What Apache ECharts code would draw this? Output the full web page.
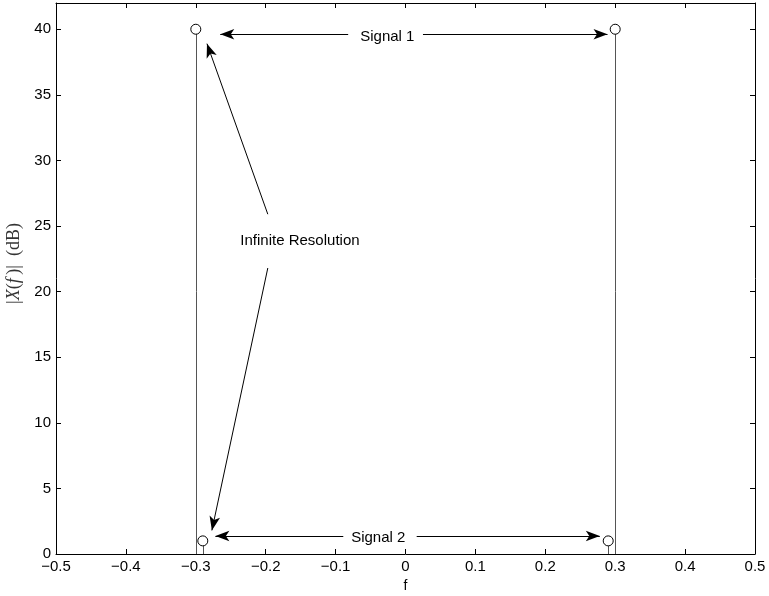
<!DOCTYPE html>
<html><head><meta charset="utf-8">
<script src="https://cdn.jsdelivr.net/npm/echarts@6/dist/echarts.min.js"></script>
<style>html,body{margin:0;padding:0;background:#fff}#c{width:769px;height:596px}</style>
</head><body><div id="c"></div>
<script>
// Data
var stemX = [-0.3, 0.3, -0.29, 0.29];
var stemY = [40, 40, 1, 1];
var xTicks = [-0.5, -0.4, -0.3, -0.2, -0.1, 0, 0.1, 0.2, 0.3, 0.4, 0.5];
var yTicks = [0, 5, 10, 15, 20, 25, 30, 35, 40];
var annotTexts = ['Signal 1', 'Signal 2', 'Infinite Resolution'];
var annotPos = [[-0.026, 39.4], [-0.039, 1.2], [-0.151, 23.85]];
// arrows: [fromX, fromY, toX, toY]
var arrows = [
  [-0.082, 39.62, -0.265, 39.62],
  [0.025, 39.62, 0.289, 39.62],
  [-0.089, 1.37, -0.272, 1.37],
  [0.016, 1.37, 0.278, 1.37],
  [-0.197, 25.9, -0.284, 38.9],
  [-0.197, 21.8, -0.277, 1.8]
];

var FONT = 'Liberation Sans, Arial, sans-serif';
var SERIF = 'Liberation Serif, DejaVu Serif, serif';
function fmtX(v){ var s = Math.abs(v) < 1e-9 ? '0' : v.toFixed(1); return s.replace('-', '\u2212'); }
function fmtY(v){ return yTicks.indexOf(v) >= 0 ? String(v) : ''; }

var chart = echarts.init(document.getElementById('c'), null, {renderer: 'canvas'});
var axisLineStyle = {show: true, onZero: false, lineStyle: {color: '#000', width: 1}};
var tickStyle = {show: true, inside: true, length: 5, lineStyle: {color: '#000', width: 1}};

var stemData = stemX.map(function(x, i){ return [x, stemY[i]]; });
var markLines = arrows.map(function(a){
  return [{coord: [a[0], a[1]], symbol: 'none'}, {coord: [a[2], a[3]], symbol: 'arrow'}];
});

chart.setOption({
  animation: false,
  backgroundColor: '#fff',
  grid: {left: 56, right: 14, top: 3, bottom: 42, show: false, containLabel: false, outerBoundsMode: 'none'},
  xAxis: [{
    type: 'value', min: -0.5, max: 0.5, interval: 0.1, position: 'bottom',
    name: 'f', nameLocation: 'middle', nameGap: 25,
    nameTextStyle: {fontFamily: FONT, fontSize: 14, color: '#000'},
    axisLine: axisLineStyle, axisTick: tickStyle, splitLine: {show: false},
    axisLabel: {formatter: fmtX, fontFamily: FONT, fontSize: 15, color: '#000', margin: 5}
  }, {
    type: 'value', min: -0.5, max: 0.5, interval: 0.1, position: 'top',
    axisLine: axisLineStyle, axisTick: tickStyle, splitLine: {show: false}, axisLabel: {show: false}
  }],
  yAxis: [{
    type: 'value', min: 0, max: 42, interval: 5, position: 'left',
    name: '{a||}{i|X}{a|(}{i|f\u2009}{a|)|  (dB)}', nameLocation: 'middle', nameGap: 31, nameRotate: 90,
    nameTextStyle: {color: '#333', padding: [0, 0, 0, 30], rich: {
      a: {fontFamily: SERIF, fontSize: 18, color: '#333'},
      i: {fontFamily: SERIF, fontSize: 18, fontStyle: 'italic', color: '#333'}
    }},
    axisLine: axisLineStyle, axisTick: tickStyle, splitLine: {show: false},
    axisLabel: {formatter: fmtY, fontFamily: FONT, fontSize: 15, color: '#000', margin: 5}
  }, {
    type: 'value', min: 0, max: 42, interval: 5, position: 'right',
    axisLine: axisLineStyle, axisTick: tickStyle, splitLine: {show: false}, axisLabel: {show: false}
  }],
  series: [{
    type: 'custom',
    data: stemData,
    renderItem: function(params, api){
      var p0 = api.coord([api.value(0), 0]);
      var p1 = api.coord([api.value(0), api.value(1)]);
      return {type: 'line', shape: {x1: Math.round(p0[0]) + 0.5, y1: p0[1], x2: Math.round(p1[0]) + 0.5, y2: p1[1]},
        style: {stroke: '#555', lineWidth: 1}};
    },
    z: 2
  }, {
    type: 'scatter',
    data: stemData,
    symbol: 'circle', symbolSize: 10,
    itemStyle: {color: '#fff', borderColor: '#000', borderWidth: 1, opacity: 1},
    z: 3,
    markLine: {
      silent: true,
      symbolSize: [8, 14],
      lineStyle: {color: '#000', width: 1, type: 'solid', opacity: 1},
      itemStyle: {color: '#000'},
      label: {show: false},
      emphasis: {disabled: true},
      data: markLines
    }
  }, {
    type: 'scatter',
    data: annotPos.map(function(p, i){ return {value: p, name: annotTexts[i]}; }),
    symbolSize: 1,
    itemStyle: {opacity: 0},
    label: {show: true, position: 'inside', formatter: function(p){ return p.name; },
      fontFamily: FONT, fontSize: 15, color: '#000', textBorderWidth: 0, opacity: 1},
    z: 4
  }]
});
</script>
</body></html>
